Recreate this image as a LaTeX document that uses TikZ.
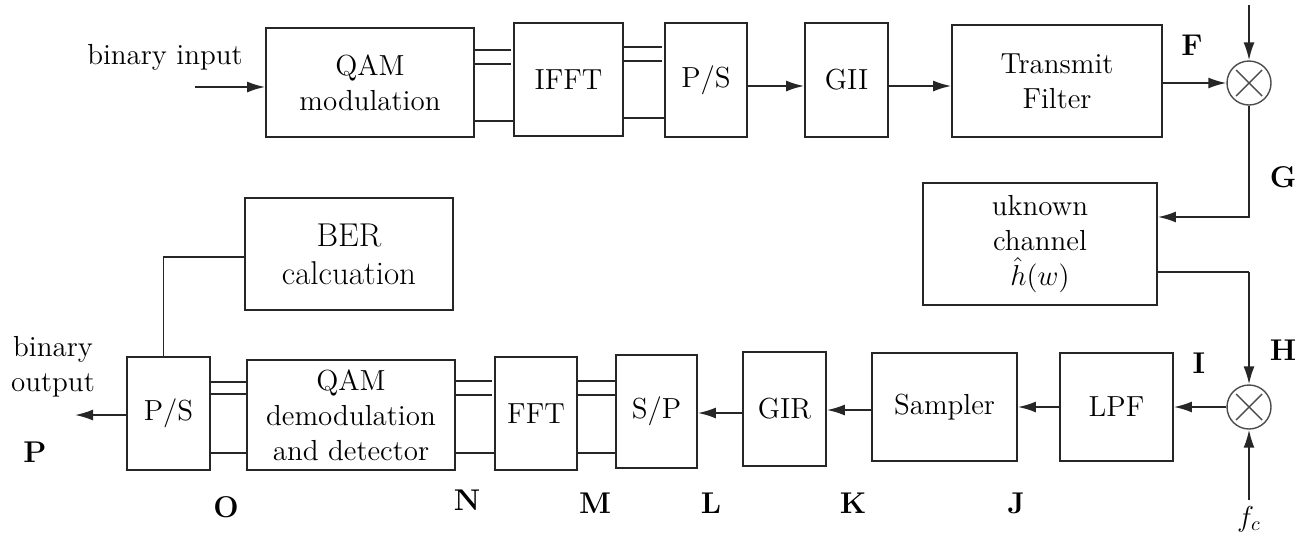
\documentclass[tikz,border=0pt]{standalone}
\usetikzlibrary{arrows.meta,calc}
\begin{document}
\begin{tikzpicture}[x=0.5pt,y=-0.5pt,
  box/.style={draw=black!85, line width=0.9pt, inner sep=0pt, align=center, font=\fontsize{14.5}{17.5}\selectfont},
  mix/.style={circle, draw=black!70, line width=0.7pt, minimum size=22pt, inner sep=0pt},
  arr/.style={draw=black!85, line width=0.9pt, -{Latex[length=9pt,width=5.5pt]}},
  ln/.style={draw=black!85, line width=0.9pt},
  crs/.style={draw=black!70, line width=0.7pt},
  lab/.style={font=\fontsize{15}{18}\selectfont\bfseries, inner sep=0pt},
  txt/.style={font=\fontsize{14.5}{17.5}\selectfont, align=center, inner sep=0pt}]
\useasboundingbox (0,0) rectangle (1309,537);

% ---------- top row ----------
\node[txt] (bin) at (165,57) {binary input};
\coordinate (bin0) at (195,87);
\node[box, minimum width=104pt, minimum height=54.5pt] (qam) at (370,82.5) {QAM\\modulation};
\node[box, minimum width=54.5pt, minimum height=56.5pt] (ifft) at (568.5,79.5) {IFFT};
\node[box, minimum width=41pt, minimum height=57pt] (ps1) at (706,80) {P/S};
\node[box, minimum width=41.5pt, minimum height=57pt] (gii) at (846.5,80) {GII};
\node[box, minimum width=105pt, minimum height=56pt] (tf) at (1057,81) {Transmit\\Filter};
\node[mix] (m1) at (1249,83) {};
\coordinate (top) at (1249,5);
\node[lab] (F) at (1192,45) {F};
\node[lab] (G) at (1283,177) {G};

\draw[arr] (bin0) -- (qam.west |- bin0);
\draw[ln] (qam.east |- 0,50) -- ++(36,0);
\draw[ln] (qam.east |- 0,64) -- ++(36,0);
\draw[ln] (qam.east |- 0,121) -- (ifft.west |- 0,121);
\draw[ln] (ifft.east |- 0,47) -- ++(38,0);
\draw[ln] (ifft.east |- 0,61) -- ++(38,0);
\draw[ln] (ifft.east |- 0,118) -- (ps1.west |- 0,118);
\draw[arr] (ps1.east |- 0,86) -- (gii.west |- 0,86);
\draw[arr] (gii.east |- 0,86) -- (tf.west |- 0,86);
\draw[arr] (tf.east |- 0,83) -- (m1.west);
\draw[arr] (top) -- (m1.north);
\draw[crs] ($(m1.center)+(-13,-13)$) -- ($(m1.center)+(13,13)$);
\draw[crs] ($(m1.center)+(-13,13)$) -- ($(m1.center)+(13,-13)$);

% ---------- channel ----------
\node[box, minimum width=117pt, minimum height=61pt] (chan) at (1040,244) {uknown\\channel\\$\hat{h}(w)$};
\draw[arr] (m1.south) |- (chan.east |- 0,217);
\draw[ln] (chan.east |- 0,272) -- (1249,272);
\node[mix] (m2) at (1249,407) {};
\draw[arr] (1249,272) -- (m2.north);
\draw[crs] ($(m2.center)+(-13,-13)$) -- ($(m2.center)+(13,13)$);
\draw[crs] ($(m2.center)+(-13,13)$) -- ($(m2.center)+(13,-13)$);
\node[lab] (H) at (1283,350) {H};
\node[lab] (I) at (1199,363) {I};
\node[txt] (fc) at (1249,519) {$f_c$};
\draw[arr] (1249,500) -- (m2.south);

% ---------- bottom row ----------
\node[box, minimum width=56.5pt, minimum height=54pt] (lpf) at (1116.5,407) {LPF};
\node[box, minimum width=72.5pt, minimum height=54pt] (samp) at (944.5,407) {Sampler};
\node[box, minimum width=41.5pt, minimum height=57pt] (gir) at (784.5,409) {GIR};
\node[box, minimum width=40.5pt, minimum height=56.5pt] (sp) at (656.5,411.5) {S/P};
\node[box, minimum width=41pt, minimum height=56.5pt] (fft) at (536,413.5) {FFT};
\node[box, minimum width=104pt, minimum height=55pt] (dem) at (351,415) {QAM\\demodulation\\and detector};
\node[box, minimum width=41.5pt, minimum height=56.5pt] (ps2) at (168.5,413.5) {P/S};
\node[box, minimum width=104pt, minimum height=56pt, font=\fontsize{16.5}{19}\selectfont] (ber) at (349,254) {BER\\calcuation};

\draw[arr] (m2.west) -- (lpf.east);
\draw[arr] (lpf.west) -- (samp.east);
\draw[arr] (samp.west |- 0,410) -- (gir.east |- 0,410);
\draw[arr] (gir.west |- 0,413) -- (sp.east |- 0,413);
\draw[ln] (fft.east |- 0,381) -- (sp.west |- 0,381);
\draw[ln] (fft.east |- 0,395) -- (sp.west |- 0,395);
\draw[ln] (fft.east |- 0,453) -- (sp.west |- 0,453);
\draw[ln] (dem.east |- 0,381) -- ++(36,0);
\draw[ln] (dem.east |- 0,395) -- ++(36,0);
\draw[ln] (dem.east |- 0,453) -- (fft.west |- 0,453);
\draw[ln] (ps2.east |- 0,382) -- (dem.west |- 0,382);
\draw[ln] (ps2.east |- 0,394) -- (dem.west |- 0,394);
\draw[ln] (ps2.east |- 0,453) -- (dem.west |- 0,453);
\coordinate (out) at (75,415);
\draw[arr] (ps2.west |- out) -- (out);
\draw[ln] (ber.west |- 0,257) -| ($(ps2.north)+(-5,0)$);

\node[txt] (bout) at (53,367) {binary\\output};
\node[lab] (P) at (35,452) {P};
\node[lab] (O) at (226,507) {O};
\node[lab] (N) at (467,500) {N};
\node[lab] (M) at (595,503) {M};
\node[lab] (L) at (711,503) {L};
\node[lab] (K) at (853,503) {K};
\node[lab] (J) at (1016,503) {J};
\end{tikzpicture}
\end{document}
